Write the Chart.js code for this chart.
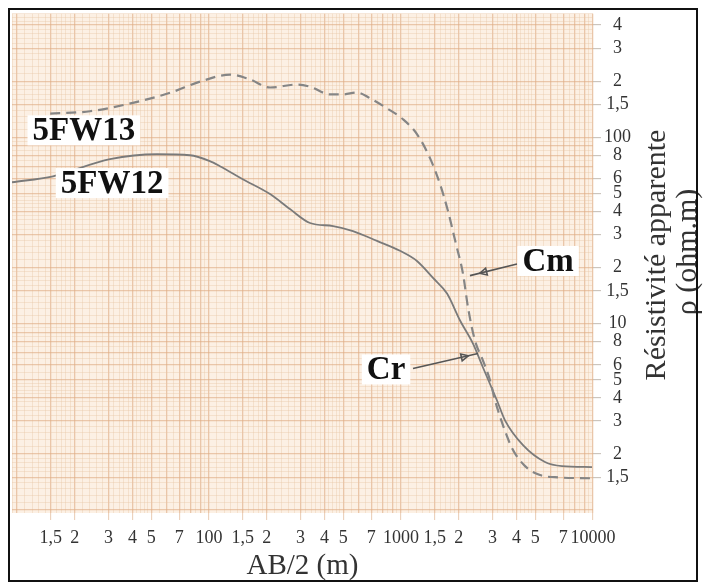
<!DOCTYPE html>
<html><head><meta charset="utf-8">
<script src="https://cdn.jsdelivr.net/npm/chart.js@4.4.0/dist/chart.umd.min.js"></script>
<style>html,body{margin:0;padding:0;background:#fff}#wrap{width:705px;height:586px;position:relative}canvas{display:block}</style>
</head><body><div id="wrap"><canvas id="c" width="705" height="586"></canvas></div>
<script>
// ---- data (AB/2 in m, apparent resistivity in ohm.m) ----
const fw12_ab2 = [9.42, 15.4, 30.5, 53.6, 79.6, 101, 114, 150, 208, 264, 336, 443, 562, 750, 988, 1211, 1468, 1737, 2030, 2371, 2673, 3162, 3481, 4320, 5623, 6900, 9880];
const fw12_rho = [57.4, 61.8, 76.3, 81.1, 80.1, 74.5, 70.0, 59.6, 49.6, 41.2, 34.7, 33.4, 31.4, 27.8, 24.6, 21.7, 17.6, 14.5, 10.4, 7.82, 5.82, 3.87, 3.03, 2.23, 1.81, 1.72, 1.70];
const fw13_ab2 = [14.9, 24.0, 41.2, 63.4, 89.8, 129, 164, 208, 287, 336, 427, 499, 590, 690, 846, 1024, 1211, 1416, 1597, 1757, 1933, 2104, 2234, 2429, 2673, 2909, 3090, 3398, 3787, 4429, 5297, 6339, 9880];
const fw13_rho = [134, 138, 154, 174, 199, 217, 204, 185, 192, 187, 170, 170, 174, 162, 143, 125, 104, 77.3, 56.1, 40.2, 26.8, 18.5, 12.2, 8.11, 6.34, 4.96, 3.87, 2.85, 2.15, 1.72, 1.54, 1.50, 1.48];

// tick labels
const xLabeled = [15,20,30,40,50,70,100,150,200,300,400,500,700,1000,1500,2000,3000,4000,5000,7000,10000];
const yLabeled = [1.5,2,3,4,5,6,8,10,15,20,30,40,50,60,80,100,150,200,300,400];

// annotations (anchored in data space)
const noteTexts = ['5FW13','5FW12','Cm','Cr'];
const noteX = [22.3, 31.3, 5834, 836];
const noteY = [109, 56.8, 21.7, 5.68];
const arrowFromX = [4020, 1155], arrowFromY = [20.9, 5.75];
const arrowToX = [2287, 2518], arrowToY = [18.1, 6.91];

// ---- helpers ----
function mant(v){ const e=Math.floor(Math.log10(v)+1e-9); return Math.round(v/Math.pow(10,e)*1000)/1000; }
function inList(v,list){ return list.some(L=>Math.abs(v-L)/L<1e-6); }
function fmt(v){ const m=mant(v); if(m===1) return String(Math.round(v)); return String(m).replace('.',','); }
function gridVals(lo,hi){
  const out=[];
  for(let e=-1;e<=4;e++){
    const d=Math.pow(10,e); let m=100;
    while(m<1000){
      const v=+(m*d/100).toPrecision(6);
      if(v>=lo&&v<=hi) out.push(v);
      m += m<200?10:(m<500?20:50);
    }
  }
  return out;
}
function level(v){
  const m=mant(v);
  if(Math.abs(m-Math.round(m))<1e-6||Math.abs(m-1.5)<1e-6) return 2;
  if(m>=2&&m<5&&Math.abs(m*2-Math.round(m*2))<1e-6) return 1;
  return 0;
}
const gridCol=['rgba(232,196,166,0.38)','rgba(228,186,150,0.50)','rgba(222,172,132,0.62)'];
const gridW=[1,1,1.3];

const X_MIN=9.42, X_MAX=10000, Y_MIN=0.964, Y_MAX=460;
const xGrid=gridVals(X_MIN,X_MAX), yGrid=gridVals(Y_MIN,Y_MAX);

const paper={id:'paper',
  beforeDraw(c){const {ctx,chartArea:a}=c;ctx.save();ctx.fillStyle='#fff';ctx.fillRect(0,0,c.width,c.height);
    ctx.fillStyle='#fcf0e4';ctx.fillRect(a.left,a.top,a.right-a.left,a.bottom-a.top);ctx.restore();},
  afterDatasetsDraw(c){
    const {ctx,scales:{x,y}}=c; ctx.save();
    ctx.strokeStyle='#555';ctx.fillStyle='#555';ctx.lineWidth=1.6;
    for(let i=0;i<arrowFromX.length;i++){
      const x1=x.getPixelForValue(arrowFromX[i]),y1=y.getPixelForValue(arrowFromY[i]);
      const x2=x.getPixelForValue(arrowToX[i]),y2=y.getPixelForValue(arrowToY[i]);
      ctx.beginPath();ctx.moveTo(x1,y1);ctx.lineTo(x2,y2);ctx.stroke();
      const ang=Math.atan2(y2-y1,x2-x1);
      const hx=x2-Math.cos(ang)*10,hy=y2-Math.sin(ang)*10;
      ctx.beginPath();ctx.moveTo(hx,hy);
      ctx.lineTo(hx-Math.cos(ang)*7+Math.sin(ang)*3.5,hy-Math.sin(ang)*7-Math.cos(ang)*3.5);
      ctx.lineTo(hx-Math.cos(ang)*7-Math.sin(ang)*3.5,hy-Math.sin(ang)*7+Math.cos(ang)*3.5);
      ctx.closePath();ctx.stroke();
    }
    ctx.font='bold 33px "Liberation Serif"';ctx.textAlign='center';ctx.textBaseline='middle';
    for(let i=0;i<noteTexts.length;i++){
      const px=x.getPixelForValue(noteX[i]),py=y.getPixelForValue(noteY[i]);
      const w=ctx.measureText(noteTexts[i]).width+10;
      ctx.fillStyle='#fff';ctx.fillRect(px-w/2,py-15,w,30);
      ctx.fillStyle='#111';ctx.fillText(noteTexts[i],px,py+1);
    }
    ctx.restore();
  },
  afterDraw(c){
    const ctx=c.ctx;ctx.save();
    ctx.fillStyle='#333';ctx.font='30px "Liberation Serif"';ctx.textAlign='center';ctx.textBaseline='middle';
    ctx.translate(657,255);ctx.rotate(-Math.PI/2);
    ctx.fillText('Résistivité apparente',0,0);
    ctx.fillText('ρ (ohm.m)',3,31);
    ctx.restore();
    ctx.save();ctx.strokeStyle='#111';ctx.lineWidth=2;ctx.strokeRect(9,9,688,572);ctx.restore();
  }
};

new Chart(document.getElementById('c'),{
  type:'scatter',
  data:{datasets:[
    {label:'5FW13',data:fw13_ab2.map((v,i)=>({x:v,y:fw13_rho[i]})),showLine:true,borderColor:'#858585',borderWidth:2.2,borderDash:[10,6],pointRadius:0,cubicInterpolationMode:'monotone',fill:false},
    {label:'5FW12',data:fw12_ab2.map((v,i)=>({x:v,y:fw12_rho[i]})),showLine:true,borderColor:'#7a7a7a',borderWidth:1.8,pointRadius:0,cubicInterpolationMode:'monotone',fill:false}
  ]},
  options:{
    responsive:false,animation:false,devicePixelRatio:1,
    layout:{padding:{left:12,top:12,right:0,bottom:0}},
    plugins:{legend:{display:false},tooltip:{enabled:false}},
    scales:{
      x:{type:'logarithmic',min:X_MIN,max:X_MAX,position:'bottom',
        afterBuildTicks:s=>{s.ticks=xGrid.map(v=>({value:v}));},
        afterFit:s=>{s.height=73;},
        border:{display:false},
        grid:{color:c=>gridCol[level(c.tick.value)],lineWidth:c=>gridW[level(c.tick.value)],
          tickColor:c=>inList(c.tick.value,xLabeled)?'rgba(222,180,145,0.7)':'rgba(0,0,0,0)',tickLength:7,tickWidth:1},
        ticks:{autoSkip:false,maxRotation:0,minRotation:0,padding:7,color:'#333',font:{family:'"Liberation Serif"',size:18},
          callback:v=>inList(v,xLabeled)?fmt(v):''},
        title:{display:true,text:'AB/2 (m)',color:'#333',font:{family:'"Liberation Serif"',size:29},padding:{top:0,bottom:2}}
      },
      y:{type:'logarithmic',min:Y_MIN,max:Y_MAX,position:'right',
        afterBuildTicks:s=>{s.ticks=yGrid.map(v=>({value:v}));},
        afterFit:s=>{s.width=112;},
        border:{display:false},
        grid:{color:c=>gridCol[level(c.tick.value)],lineWidth:c=>gridW[level(c.tick.value)],
          tickColor:c=>inList(c.tick.value,yLabeled)?'rgba(190,180,170,0.9)':'rgba(0,0,0,0)',tickLength:8,tickWidth:1},
        ticks:{autoSkip:false,crossAlign:'center',padding:3,color:'#333',font:{family:'"Liberation Serif"',size:18},
          callback:v=>inList(v,yLabeled)?fmt(v):''}
      }
    }
  },
  plugins:[paper]
});
</script></body></html>
